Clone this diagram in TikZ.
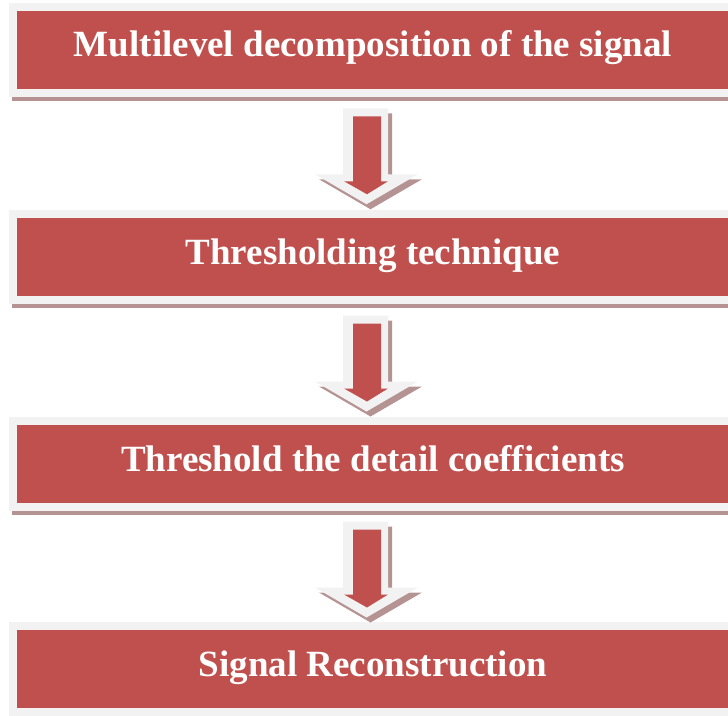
\documentclass[tikz,border=0pt]{standalone}
\usepackage{fontspec}
\setmainfont{Liberation Serif}
\usetikzlibrary{shadows,calc}
\definecolor{boxred}{RGB}{192,80,77}
\definecolor{framegray}{RGB}{242,242,242}
\definecolor{shadowcol}{RGB}{181,147,147}
\tikzset{
  stepbox/.style={fill=boxred, draw=framegray, line width=8pt,
    minimum width=720pt, minimum height=86pt, inner sep=0pt,
    text=white, font=\bfseries\fontsize{37pt}{40pt}\selectfont,
    text height=25pt, text depth=11pt,
    drop shadow={shadow xshift=-1pt, shadow yshift=-8pt, fill=shadowcol, opacity=1}},
  blockarrow/.pic={
    \fill[shadowcol, shift={(4,5)}] (-23,-48) -- (22,-48) -- (22,18) -- (52,18) -- (0.5,48) -- (-51,18) -- (-23,18) -- cycle;
    \fill[framegray] (-23,-48) -- (22,-48) -- (22,18) -- (52,18) -- (0.5,48) -- (-51,18) -- (-23,18) -- cycle;
    \fill[boxred] (-13,-40) -- (15,-40) -- (15,25) -- (22,25) -- (1,38) -- (-22,25) -- (-13,25) -- cycle;
  }
}
\begin{document}
\begin{tikzpicture}[x=1pt, y=-1pt]
\useasboundingbox (0,0) rectangle (728,715);
\clip (0,0) rectangle (728,715);
\node[stepbox] (b1) at (373,49.5) {Multilevel decomposition of the signal};
\node[stepbox] (b2) at (373,257) {Thresholding technique};
\node[stepbox] (b3) at (373,464) {Threshold the detail coefficients};
\node[stepbox] (b4) at (373,669) {Signal Reconstruction};
\path ($(b1.south)!0.5!(b2.north)+(-7,3)$) pic {blockarrow};
\path ($(b2.south)!0.5!(b3.north)+(-7,3)$) pic {blockarrow};
\path ($(b3.south)!0.5!(b4.north)+(-7,3)$) pic {blockarrow};
\end{tikzpicture}
\end{document}
